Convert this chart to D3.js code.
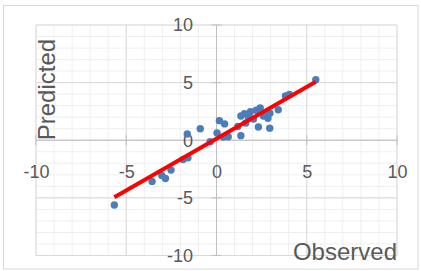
<!DOCTYPE html>
<html>
<head>
<meta charset="utf-8">
<script src="https://cdn.jsdelivr.net/npm/d3@7"></script>
<style>
  body { margin: 0; background: #fff; }
  text { font-family: 'Liberation Sans', Arial, sans-serif; fill: #595959; }
</style>
</head>
<body>
<div id="chart"></div>
<script>
// observed / predicted pairs
const observed = [-5.66, -3.57, -3.03, -2.83, -2.52, -1.85, -1.58, -1.62, -0.9, -0.35,
  0.03, 0.16, 0.45, 0.38, 0.65, 1.18, 1.35, 1.35, 1.55, 1.62,
  1.78, 1.88, 2.05, 2.2, 2.32, 2.42, 2.6, 2.72, 2.85, 2.95,
  2.96, 3.42, 3.82, 4.04, 5.5];
const predicted = [-5.62, -3.57, -3.05, -3.32, -2.58, -1.67, -1.52, 0.54, 1.0, -0.13,
  0.63, 1.7, 1.42, 0.28, 0.3, 1.2, 0.4, 2.1, 2.3, 1.5,
  1.95, 2.48, 1.85, 2.6, 1.15, 2.8, 2.1, 2.35, 1.9, 1.05,
  2.35, 2.65, 3.85, 3.98, 5.25];
const majorTicks = [-10, -5, 0, 5, 10];
const minorTicks = d3.range(-10, 11, 1);

const width = 421;
const height = 271;
const margin = { left: 36, right: 24, top: 25, bottom: 15.5 };

const svg = d3.select('#chart').append('svg')
  .attr('width', width)
  .attr('height', height);

const x = d3.scaleLinear().domain([-10, 10]).range([margin.left, width - margin.right]);
const y = d3.scaleLinear().domain([-10, 10]).range([height - margin.bottom, margin.top]);

// chart border
svg.append('rect')
  .attr('x', 3.5).attr('y', 5.5)
  .attr('width', 414.5).attr('height', 263.5)
  .attr('fill', 'none')
  .attr('stroke', '#d9d9d9');

const grid = svg.append('g').attr('class', 'grid');
// minor grid
grid.selectAll('line.mx').data(minorTicks).enter().append('line')
  .attr('x1', (d) => x(d)).attr('x2', (d) => x(d))
  .attr('y1', y(-10)).attr('y2', y(10))
  .attr('stroke', '#efefef');
grid.selectAll('line.my').data(minorTicks).enter().append('line')
  .attr('y1', (d) => y(d)).attr('y2', (d) => y(d))
  .attr('x1', x(-10)).attr('x2', x(10))
  .attr('stroke', '#efefef');
// major grid
grid.selectAll('line.Mx').data(majorTicks).enter().append('line')
  .attr('x1', (d) => x(d)).attr('x2', (d) => x(d))
  .attr('y1', y(-10)).attr('y2', y(10))
  .attr('stroke', '#d9d9d9');
grid.selectAll('line.My').data(majorTicks).enter().append('line')
  .attr('y1', (d) => y(d)).attr('y2', (d) => y(d))
  .attr('x1', x(-10)).attr('x2', x(10))
  .attr('stroke', '#d9d9d9');

// axes crossing at zero, with cross tick marks
const axes = svg.append('g').attr('stroke', '#bfbfbf');
axes.append('line')
  .attr('x1', x(-10)).attr('x2', x(10))
  .attr('y1', y(0)).attr('y2', y(0));
axes.append('line')
  .attr('x1', x(0)).attr('x2', x(0))
  .attr('y1', y(-10)).attr('y2', y(10));
axes.selectAll('line.tx').data(majorTicks).enter().append('line')
  .attr('x1', (d) => x(d)).attr('x2', (d) => x(d))
  .attr('y1', y(0) - 5).attr('y2', y(0) + 5);
axes.selectAll('line.ty').data(majorTicks).enter().append('line')
  .attr('y1', (d) => y(d)).attr('y2', (d) => y(d))
  .attr('x1', x(0) - 5).attr('x2', x(0) + 5);

// tick labels (plain hyphen minus, like the original)
const fmt = (d) => String(d);
const xAxis = svg.append('g')
  .attr('transform', `translate(0,${y(0)})`)
  .call(d3.axisBottom(x).tickValues(majorTicks).tickFormat(fmt).tickSize(0).tickPadding(25));
const yAxis = svg.append('g')
  .attr('transform', `translate(${x(0)},0)`)
  .call(d3.axisLeft(y).tickValues(majorTicks).tickFormat(fmt).tickSize(0).tickPadding(23.5));
[xAxis, yAxis].forEach((g) => {
  g.select('.domain').remove();
  g.selectAll('text')
    .attr('font-size', '18px')
    .attr('font-family', "'Liberation Sans', Arial, sans-serif")
    .attr('fill', '#595959');
});

// points
const pts = observed.map((d, i) => ({ o: d, p: predicted[i] }));
svg.append('g').selectAll('circle').data(pts).enter().append('circle')
  .attr('cx', (d) => x(d.o))
  .attr('cy', (d) => y(d.p))
  .attr('r', 3.7)
  .attr('fill', '#4a7ebb');

// least squares trend line over the data range
const mo = d3.mean(observed);
const mp = d3.mean(predicted);
const slope = d3.sum(pts, (d) => (d.o - mo) * (d.p - mp)) / d3.sum(pts, (d) => (d.o - mo) ** 2);
const intercept = mp - slope * mo;
const ext = d3.extent(observed);
svg.append('path')
  .datum(ext)
  .attr('d', d3.line().x((d) => x(d)).y((d) => y(intercept + slope * d)))
  .attr('stroke', '#ff0000')
  .attr('stroke-width', 4)
  .attr('fill', 'none');

// axis titles
svg.append('text')
  .attr('x', x(10)).attr('y', 259.5)
  .attr('text-anchor', 'end')
  .attr('font-size', '24px')
  .text('Observed');
svg.append('text')
  .attr('transform', `translate(55,${y(0)}) rotate(-90)`)
  .attr('font-size', '24px')
  .text('Predicted');
</script>
</body>
</html>
